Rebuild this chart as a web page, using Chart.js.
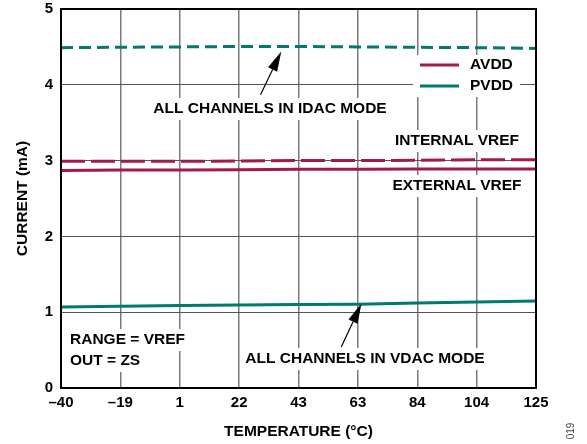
<!DOCTYPE html>
<html>
<head>
<script src="https://cdn.jsdelivr.net/npm/chart.js"></script>
<style>
  body { margin: 0; background: #fff; }
  #wrap { width: 587px; height: 444px; }
</style>
</head>
<body>
<div id="wrap"><canvas id="currentChart" width="587" height="444"></canvas></div>
<script>
// temperature (°C) categories and supply currents (mA)
const temps = ['–40', '–19', '1', '22', '43', '63', '84', '104', '125'];
const pvddIdac = [4.49, 4.495, 4.50, 4.505, 4.505, 4.50, 4.495, 4.49, 4.48];
const avddInternal = [2.99, 2.99, 2.99, 2.995, 3.00, 3.00, 3.005, 3.01, 3.01];
const avddExternal = [2.87, 2.875, 2.875, 2.88, 2.885, 2.885, 2.888, 2.888, 2.888];
const pvddVdac = [1.069, 1.079, 1.088, 1.095, 1.10, 1.105, 1.12, 1.135, 1.149];

const AVDD = '#a31a44';
const PVDD = '#00796f';
const FONT = '"Liberation Sans", Arial, sans-serif';
const NOTE_FONT = 'bold 15.5px ' + FONT;

// text notes on the plot (pixel positions, white box behind)
const notes = [
  { text: 'ALL CHANNELS IN IDAC MODE', x: 270, y: 109, align: 'center' },
  { text: 'INTERNAL VREF', x: 457, y: 141, align: 'center' },
  { text: 'EXTERNAL VREF', x: 457, y: 186, align: 'center' },
  { text: 'RANGE = VREF', x: 70, y: 340, align: 'left' },
  { text: 'OUT = ZS', x: 70, y: 361, align: 'left' },
  { text: 'ALL CHANNELS IN VDAC MODE', x: 365, y: 359, align: 'center' }
];
// arrows in data coords: [tail index, tail value, tip index, tip value]
const arrows = [
  [3.36, 3.87, 3.71, 4.44],
  [4.72, 0.54, 5.06, 1.114]
];

function arrow(ctx, x1, y1, x2, y2) {
  const a = Math.atan2(y2 - y1, x2 - x1);
  const len = 20, half = 5;
  const bx = x2 - len * Math.cos(a), by = y2 - len * Math.sin(a);
  ctx.beginPath();
  ctx.moveTo(x1, y1);
  ctx.lineTo(bx, by);
  ctx.strokeStyle = '#000';
  ctx.lineWidth = 1.2;
  ctx.stroke();
  ctx.beginPath();
  ctx.moveTo(x2, y2);
  ctx.lineTo(bx + half * Math.sin(a), by - half * Math.cos(a));
  ctx.lineTo(bx - half * Math.sin(a), by + half * Math.cos(a));
  ctx.closePath();
  ctx.fillStyle = '#000';
  ctx.fill();
}

const notesPlugin = {
  id: 'notes',
  beforeDatasetsDraw(chart) {
    const ctx = chart.ctx;
    ctx.save();
    ctx.font = NOTE_FONT;
    ctx.textBaseline = 'middle';
    notes.forEach(n => {
      const w = ctx.measureText(n.text).width;
      const left = n.align === 'center' ? n.x - w / 2 : n.x;
      ctx.fillStyle = '#fff';
      ctx.fillRect(left - 5, n.y - 11, w + 10, 22);
      ctx.fillStyle = '#000';
      ctx.textAlign = n.align;
      ctx.fillText(n.text, n.x, n.y);
    });
    // legend
    ctx.fillStyle = '#fff';
    ctx.fillRect(413, 55, 107, 42);
    [['AVDD', AVDD, 65], ['PVDD', PVDD, 86]].forEach(([label, color, y]) => {
      ctx.beginPath();
      ctx.moveTo(420, y);
      ctx.lineTo(459, y);
      ctx.strokeStyle = color;
      ctx.lineWidth = 3;
      ctx.stroke();
      ctx.fillStyle = '#000';
      ctx.textAlign = 'left';
      ctx.fillText(label, 470, y);
    });
    ctx.restore();
  },
  afterDatasetsDraw(chart) {
    const ctx = chart.ctx;
    const xs = chart.scales.x, ys = chart.scales.y;
    ctx.save();
    arrows.forEach(a => arrow(ctx,
      xs.getPixelForValue(a[0]), ys.getPixelForValue(a[1]),
      xs.getPixelForValue(a[2]), ys.getPixelForValue(a[3])));
    const ca = chart.chartArea;
    ctx.strokeStyle = '#000';
    ctx.lineWidth = 2;
    ctx.strokeRect(ca.left, ca.top, ca.right - ca.left, ca.bottom - ca.top);
    // figure number
    ctx.translate(571, 431);
    ctx.rotate(-Math.PI / 2);
    ctx.font = '10px ' + FONT;
    ctx.fillStyle = '#444';
    ctx.textAlign = 'center';
    ctx.textBaseline = 'middle';
    ctx.fillText('019', 0, 0);
    ctx.restore();
  }
};

const line = (data, color, dash) => ({
  data: data,
  borderColor: color,
  borderWidth: 3,
  borderDash: dash,
  pointRadius: 0,
  tension: 0,
  fill: false
});

new Chart(document.getElementById('currentChart'), {
  type: 'line',
  data: {
    labels: temps,
    datasets: [
      line(pvddIdac, PVDD, [12, 6]),
      line(avddInternal, AVDD, [24, 6]),
      line(avddExternal, AVDD, []),
      line(pvddVdac, PVDD, [])
    ]
  },
  options: {
    responsive: false,
    animation: false,
    layout: { padding: { left: 0, right: 51, top: 0, bottom: 0 } },
    plugins: { legend: { display: false }, tooltip: { enabled: false } },
    scales: {
      x: {
        offset: false,
        afterFit: s => { s.height = 56; },
        grid: { color: '#7a7a7a', lineWidth: 1.5, drawTicks: false },
        border: { display: false },
        ticks: { color: '#000', font: { family: FONT, size: 15, weight: 'bold' }, padding: 6, maxRotation: 0 },
        title: { display: true, text: 'TEMPERATURE (°C)', color: '#000',
                 font: { family: FONT, size: 15.5, weight: 'bold' }, padding: { top: 0, bottom: 3 } }
      },
      y: {
        min: 0,
        max: 5,
        afterFit: s => { s.width = 61; s.paddingTop = 9; s.paddingBottom = 0; },
        grid: { color: '#555', lineWidth: 1, drawTicks: false },
        border: { display: false },
        ticks: { stepSize: 1, color: '#000', font: { family: FONT, size: 15, weight: 'bold' }, padding: 8 },
        title: { display: true, text: 'CURRENT (mA)', color: '#000',
                 font: { family: FONT, size: 15.5, weight: 'bold' }, padding: { top: 13, bottom: 0 } }
      }
    }
  },
  plugins: [notesPlugin]
});
</script>
</body>
</html>
